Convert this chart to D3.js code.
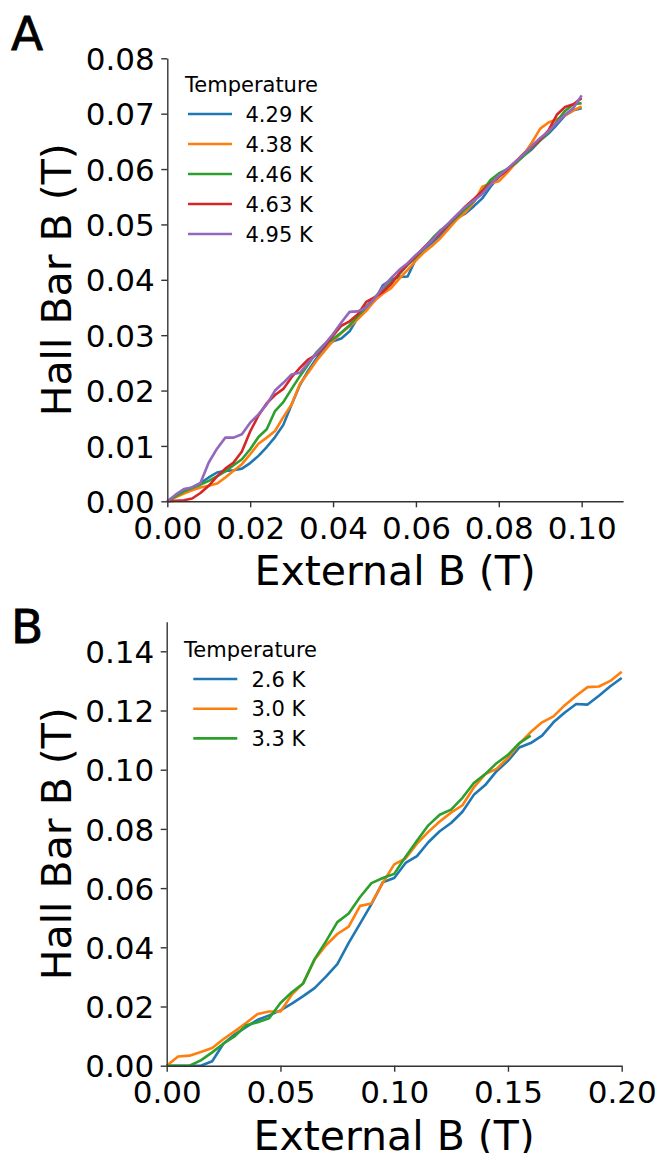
<!DOCTYPE html>
<html>
<head>
<meta charset="utf-8">
<script src="https://cdn.jsdelivr.net/npm/d3@7"></script>
<style>
  html, body { margin: 0; padding: 0; background: #fff; }
  svg { display: block; font-family: "DejaVu Sans", sans-serif; }
</style>
</head>
<body>
<svg id="chart" width="670" height="1153"></svg>
<script>
// ---------------- Panel A data ----------------
const xA = [0.000,0.002,0.004,0.006,0.008,0.010,0.012,0.014,0.016,0.018,
            0.020,0.022,0.024,0.026,0.028,0.030,0.032,0.034,0.036,0.038,
            0.040,0.042,0.044,0.046,0.048,0.050,0.052,0.054,0.056,0.058,
            0.060,0.062,0.064,0.066,0.068,0.070,0.072,0.074,0.076,0.078,
            0.080,0.082,0.084,0.086,0.088,0.090,0.092,0.094,0.096,0.098,0.100];
const seriesA_429 = [0,0.0009,0.0018,0.0025,0.0033,0.0043,0.0052,0.0055,0.0056,0.0059,
  0.0069,0.0082,0.0098,0.0116,0.0138,0.0175,0.0210,0.0236,0.0258,0.0277,
  0.0289,0.0294,0.0307,0.0332,0.0350,0.0362,0.0390,0.0400,0.0405,0.0406,
  0.0438,0.0455,0.0468,0.0480,0.0498,0.0512,0.0520,0.0533,0.0547,0.0568,
  0.0586,0.0598,0.0611,0.0624,0.0636,0.0652,0.0664,0.0680,0.0697,0.0706,0.0710];
const seriesA_438 = [0,0.0007,0.0014,0.0020,0.0025,0.0028,0.0032,0.0043,0.0055,0.0067,
  0.0085,0.0104,0.0115,0.0127,0.0152,0.0175,0.0212,0.0232,0.0254,0.0272,
  0.0290,0.0304,0.0316,0.0329,0.0344,0.0362,0.0375,0.0385,0.0402,0.0418,
  0.0435,0.0450,0.0462,0.0476,0.0493,0.0510,0.0522,0.0540,0.0568,0.0574,
  0.0578,0.0593,0.0610,0.0626,0.0648,0.0673,0.0684,0.0690,0.0697,0.0706,0.0713];
const seriesA_446 = [0,0.0009,0.0018,0.0024,0.0030,0.0037,0.0045,0.0054,0.0065,0.0076,
  0.0094,0.0116,0.0130,0.0163,0.0179,0.0203,0.0226,0.0247,0.0269,0.0284,
  0.0293,0.0305,0.0318,0.0335,0.0352,0.0368,0.0382,0.0395,0.0410,0.0427,
  0.0441,0.0458,0.0475,0.0490,0.0500,0.0514,0.0528,0.0542,0.0560,0.0580,
  0.0592,0.0600,0.0610,0.0624,0.0638,0.0652,0.0666,0.0686,0.0705,0.0717,0.0719];
const seriesA_463 = [0,0.0001,0.0002,0.0005,0.0015,0.0028,0.0045,0.0059,0.0070,0.0090,
  0.0126,0.0155,0.0177,0.0192,0.0203,0.0224,0.0241,0.0256,0.0265,0.0281,
  0.0299,0.0317,0.0325,0.0338,0.0360,0.0368,0.0378,0.0392,0.0412,0.0428,
  0.0443,0.0459,0.0472,0.0486,0.0502,0.0517,0.0533,0.0546,0.0560,0.0574,
  0.0586,0.0598,0.0613,0.0628,0.0640,0.0653,0.0670,0.0698,0.0712,0.0717,0.0728];
const seriesA_495 = [0,0.0012,0.0022,0.0025,0.0033,0.0070,0.0095,0.0115,0.0115,0.0121,
  0.0142,0.0157,0.0175,0.0200,0.0214,0.0229,0.0232,0.0250,0.0267,0.0284,
  0.0302,0.0323,0.0342,0.0343,0.0350,0.0366,0.0386,0.0403,0.0418,0.0430,
  0.0445,0.0458,0.0472,0.0489,0.0503,0.0518,0.0532,0.0543,0.0555,0.0572,
  0.0588,0.0600,0.0613,0.0627,0.0642,0.0656,0.0668,0.0684,0.0698,0.0710,0.0733];
const labelsA = ["4.29 K","4.38 K","4.46 K","4.63 K","4.95 K"];
const xTicksA = [0,0.02,0.04,0.06,0.08,0.10];
const yTicksA = [0,0.01,0.02,0.03,0.04,0.05,0.06,0.07,0.08];

// ---------------- Panel B data ----------------
const xB = [0.000,0.005,0.010,0.015,0.020,0.025,0.030,0.035,0.040,0.045,
            0.050,0.055,0.060,0.065,0.070,0.075,0.080,0.085,0.090,0.095,
            0.100,0.105,0.110,0.115,0.120,0.125,0.130,0.135,0.140,0.145,
            0.150,0.155,0.160,0.165,0.170,0.175,0.180,0.185,0.190,0.195,0.200];
const seriesB_26 = [0,0,0,0,0.0015,0.0075,0.0106,0.0131,0.0155,0.0170,
  0.0187,0.0210,0.0235,0.0262,0.0301,0.0343,0.0415,0.0480,0.0546,0.0620,
  0.0634,0.0685,0.0708,0.0755,0.0792,0.0820,0.0858,0.0915,0.0948,0.0995,
  0.1030,0.1075,0.1090,0.1115,0.1160,0.1193,0.1222,0.1220,0.1250,0.1282,0.1310];
const seriesB_30 = [0,0.0031,0.0034,0.0046,0.0060,0.0090,0.0117,0.0145,0.0175,0.0183,
  0.0183,0.0240,0.0279,0.0358,0.0407,0.0445,0.0470,0.0540,0.0548,0.0618,
  0.0680,0.0700,0.0750,0.0790,0.0825,0.0855,0.0880,0.0940,0.0985,0.1003,
  0.1040,0.1088,0.1127,0.1160,0.1180,0.1218,0.1250,0.1279,0.1281,0.1300,0.1331];
const seriesB_33 = [0,0,0,0.0018,0.0045,0.0075,0.0100,0.0137,0.0147,0.0160,
  0.0212,0.0248,0.0278,0.0360,0.0420,0.0485,0.0514,0.0570,0.0617,0.0634,
  0.0648,0.0706,0.0760,0.0812,0.0848,0.0865,0.0905,0.0955,0.0985,0.1022,
  0.1050,0.1090,0.1115];
const labelsB = ["2.6 K","3.0 K","3.3 K"];
const xTicksB = [0,0.05,0.10,0.15,0.20];
const yTicksB = [0,0.02,0.04,0.06,0.08,0.10,0.12,0.14];

const colors = ["#1f77b4","#ff7f0e","#2ca02c","#d62728","#9467bd"];

// ---------------- Drawing ----------------
const svg = d3.select("#chart");
const TICK_FS = 31, LABEL_FS = 41, LEG_FS = 21;
const AXIS_COLOR = "#333";

function drawPanel(cfg) {
  const x = d3.scaleLinear().domain(cfg.xDomain).range([cfg.left, cfg.right]);
  const y = d3.scaleLinear().domain(cfg.yDomain).range([cfg.bottom, cfg.top]);
  const g = svg.append("g");

  // lines
  const line = d3.line().x(d => x(d[0])).y(d => y(d[1]));
  cfg.series.forEach((s, i) => {
    const pts = s.map((v, k) => [cfg.xs[k], v]);
    g.append("path").attr("d", line(pts))
      .attr("fill", "none").attr("stroke", colors[i])
      .attr("stroke-width", 2.6).attr("stroke-linejoin", "round");
  });

  // axes
  const xAxis = d3.axisBottom(x).tickValues(cfg.xTicks).tickFormat(d3.format(".2f"))
    .tickSize(6).tickPadding(9.5).tickSizeOuter(0);
  const yAxis = d3.axisLeft(y).tickValues(cfg.yTicks).tickFormat(d3.format(".2f"))
    .tickSize(6).tickPadding(6.5).tickSizeOuter(0);
  const gx = g.append("g").attr("transform", `translate(0,${cfg.bottom})`).call(xAxis);
  const gy = g.append("g").attr("transform", `translate(${cfg.left},0)`).call(yAxis);
  [gx, gy].forEach(a => {
    a.select(".domain").attr("stroke", AXIS_COLOR).attr("stroke-width", 1.4);
    a.selectAll(".tick line").attr("stroke", AXIS_COLOR).attr("stroke-width", 1.4);
    a.selectAll(".tick text").attr("fill", "#000")
      .style("font-family", "DejaVu Sans").style("font-size", TICK_FS + "px");
  });
  gy.selectAll(".tick text").attr("dy", "0.36em");

  // axis labels
  g.append("text").attr("x", (cfg.left + cfg.right) / 2).attr("y", cfg.bottom + 84)
    .attr("text-anchor", "middle").style("font-size", LABEL_FS + "px").text("External B (T)");
  g.append("text")
    .attr("transform", `translate(71,${(cfg.top + cfg.bottom) / 2}) rotate(-90)`)
    .attr("text-anchor", "middle").style("font-size", LABEL_FS + "px").text("Hall Bar B (T)");

  // panel letter
  g.append("text").attr("x", 11).attr("y", cfg.letterY)
    .style("font-size", "47px").style("font-weight", "normal")
    .attr("stroke", "#000").attr("stroke-width", 0.8).text(cfg.letter);

  // legend
  const L = cfg.legend;
  g.append("text").attr("x", L.titleX).attr("y", L.titleY)
    .style("font-size", LEG_FS + "px").text("Temperature");
  cfg.labels.forEach((lab, i) => {
    const yy = L.row0 + i * L.rowGap;
    g.append("line").attr("x1", L.lineX1).attr("x2", L.lineX2)
      .attr("y1", yy).attr("y2", yy)
      .attr("stroke", colors[i]).attr("stroke-width", 2.6);
    g.append("text").attr("x", L.textX).attr("y", yy + 7.5)
      .style("font-size", LEG_FS + "px").text(lab);
  });
}

drawPanel({
  letter: "A", letterY: 50,
  xDomain: [0, 0.11], yDomain: [0, 0.08],
  left: 167.3, right: 623.1, top: 58.3, bottom: 501.3,
  xs: xA,
  series: [seriesA_429, seriesA_438, seriesA_446, seriesA_463, seriesA_495],
  labels: labelsA, xTicks: xTicksA, yTicks: yTicksA,
  legend: { titleX: 185, titleY: 92, lineX1: 188, lineX2: 232, textX: 245.5, row0: 114, rowGap: 30 }
});

drawPanel({
  letter: "B", letterY: 643,
  xDomain: [0, 0.2], yDomain: [0, 0.15],
  left: 166.7, right: 621.7, top: 621.7, bottom: 1065.7,
  xs: xB,
  series: [seriesB_26, seriesB_30, seriesB_33],
  labels: labelsB, xTicks: xTicksB, yTicks: yTicksB,
  legend: { titleX: 184, titleY: 657, lineX1: 193.3, lineX2: 237.3, textX: 251.5, row0: 679, rowGap: 29.7 }
});
</script>
</body>
</html>
